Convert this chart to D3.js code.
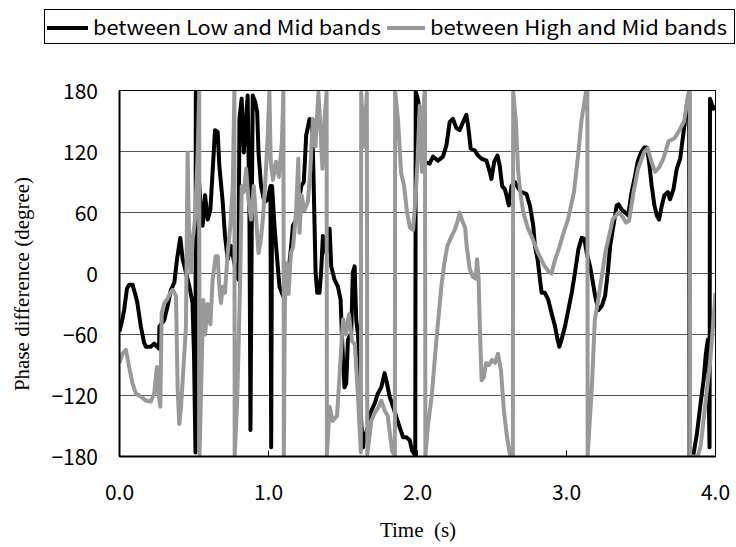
<!DOCTYPE html>
<html lang="en">
<head>
<meta charset="UTF-8">
<title>Phase difference</title>
<script src="https://d3js.org/d3.v7.min.js"></script>
<style>
  html, body { margin:0; padding:0; background:#fff; }
  svg { display:block; }
  .lbl { font-family:"Noto Sans CJK JP", sans-serif; font-size:21px; fill:#000; }
  .leg { font-family:"Noto Sans CJK JP", sans-serif; font-size:20px; fill:#000; }
  .ttl { font-family:"Liberation Serif", serif; font-size:21px; fill:#000; }
</style>
</head>
<body>
<div id="chart"></div>
<script>
// series names (legend)
const seriesNames=["between Low and Mid bands","between High and Mid bands"];

// Low-Mid phase difference (black), time in s, phase in degree
const lowTime=[0.000,0.015,0.031,0.050,0.065,0.087,0.105,0.120,0.143,0.165,0.177,0.210,0.233,0.265,0.268,0.300,0.323,0.345,0.368,0.386,
  0.408,0.424,0.446,0.469,0.490,0.500,0.510,0.512,0.530,0.547,0.558,0.574,0.592,0.610,0.626,0.641,0.659,0.670,0.693,0.708,
  0.726,0.749,0.782,0.798,0.805,0.820,0.834,0.850,0.860,0.872,0.879,0.888,0.894,0.910,0.924,0.933,0.950,0.973,0.995,1.013,
  1.018,1.024,1.040,1.058,1.074,1.097,1.119,1.134,1.152,1.164,1.186,1.220,1.237,1.253,1.276,1.291,1.300,1.316,1.327,1.342,
  1.353,1.365,1.387,1.410,1.421,1.443,1.466,1.484,1.492,1.510,1.522,1.533,1.555,1.566,1.578,1.589,1.600,1.611,1.622,1.634,
  1.645,1.667,1.690,1.712,1.734,1.757,1.779,1.791,1.813,1.836,1.858,1.880,1.903,1.925,1.948,1.963,1.985,1.988,2.005,2.020,
  2.037,2.081,2.104,2.137,2.171,2.194,2.216,2.238,2.261,2.283,2.306,2.328,2.339,2.357,2.384,2.407,2.429,2.463,2.485,2.496,
  2.515,2.537,2.552,2.568,2.586,2.597,2.613,2.631,2.653,2.676,2.698,2.732,2.754,2.777,2.788,2.806,2.822,2.833,2.855,2.878,
  2.900,2.923,2.940,2.952,2.967,2.990,3.012,3.035,3.057,3.080,3.102,3.120,3.136,3.158,3.174,3.192,3.214,3.237,3.259,3.277,
  3.293,3.315,3.337,3.349,3.370,3.393,3.415,3.433,3.456,3.478,3.500,3.523,3.539,3.554,3.572,3.590,3.606,3.621,3.640,3.657,
  3.680,3.695,3.718,3.740,3.763,3.774,3.792,3.808,3.823,3.826,3.852,3.875,3.897,3.920,3.935,3.949,3.960,3.963,3.985,4.000];
const lowPhase=[-57,-48,-36,-15,-11,-11,-20,-29,-52,-68,-72,-72,-69,-74,-52,-46,-32,-16,-9,14,
  35,14,1,-13,-29,-79,-176,178,100,60,47,77,53,63,103,141,139,106,70,37,
  14,27,1,-6,152,172,119,152,175,60,-154,60,175,169,159,119,86,70,73,86,
  -171,86,47,14,-13,-22,-16,1,27,47,53,86,90,136,152,150,109,1,-19,-19,
  1,37,20,44,7,-6,-13,-26,-59,-112,-108,-65,-59,1,7,-46,-59,-88,-145,-171,
  -161,-151,-135,-128,-118,-112,-98,-105,-121,-131,-141,-151,-161,-161,-164,-174,-179,179,170,150,
  110,108,115,111,115,126,149,152,143,141,149,156,146,123,121,116,113,111,100,93,
  110,116,106,86,83,77,67,86,90,84,80,78,67,47,27,14,-6,-19,-19,-26,
  -39,-52,-65,-72,-65,-52,-36,-19,1,24,35,34,20,7,-6,-22,-36,-32,-22,1,
  27,47,67,68,63,60,57,77,93,110,119,124,124,110,86,67,57,53,67,77,
  80,73,83,103,113,126,146,166,179,-179,-178,-158,-131,-105,-79,-65,-171,172,162,165];

// High-Mid phase difference (gray)
const highTime=[0.000,0.020,0.043,0.065,0.087,0.110,0.143,0.177,0.210,0.233,0.251,0.262,0.274,0.283,0.300,0.318,0.341,0.357,0.379,0.390,
  0.401,0.413,0.435,0.446,0.457,0.469,0.480,0.491,0.507,0.525,0.535,0.537,0.550,0.562,0.575,0.590,0.610,0.625,0.645,0.659,
  0.670,0.681,0.693,0.708,0.726,0.744,0.760,0.771,0.773,0.789,0.798,0.811,0.820,0.834,0.850,0.865,0.883,0.901,0.917,0.933,
  0.946,0.962,0.977,0.995,1.006,1.015,1.030,1.050,1.070,1.090,1.100,1.103,1.110,1.120,1.135,1.150,1.165,1.185,1.200,1.208,
  1.222,1.240,1.264,1.280,1.298,1.315,1.335,1.350,1.362,1.375,1.390,1.392,1.410,1.430,1.460,1.475,1.500,1.520,1.540,1.560,
  1.580,1.600,1.620,1.622,1.640,1.660,1.663,1.690,1.710,1.740,1.757,1.780,1.800,1.830,1.848,1.850,1.870,1.890,1.910,1.930,
  1.950,1.970,1.985,2.000,2.015,2.030,2.045,2.050,2.053,2.070,2.095,2.130,2.160,2.180,2.200,2.230,2.250,2.270,2.283,2.300,
  2.320,2.330,2.350,2.370,2.390,2.400,2.410,2.420,2.430,2.445,2.460,2.480,2.500,2.520,2.540,2.560,2.580,2.600,2.620,2.640,
  2.642,2.660,2.676,2.690,2.710,2.740,2.770,2.810,2.850,2.880,2.900,2.920,2.950,2.980,3.010,3.050,3.080,3.100,3.130,3.140,
  3.142,3.170,3.190,3.220,3.260,3.310,3.348,3.370,3.400,3.420,3.450,3.480,3.520,3.545,3.570,3.595,3.625,3.650,3.685,3.725,
  3.755,3.790,3.815,3.828,3.830,3.880,3.900,3.930,3.965,3.990,4.000];
const highPhase=[-88,-79,-75,-92,-108,-118,-121,-125,-126,-118,-92,-118,-131,-39,-29,-26,-19,-16,-22,-112,
  -148,-131,-79,-52,119,20,1,34,53,120,179,-179,-100,-26,-60,-30,-50,-6,17,17,
  -13,-29,-13,-19,20,47,86,179,-179,-128,-79,1,86,80,103,73,53,86,53,20,
  30,53,86,136,179,110,92,110,95,130,179,-179,-30,10,-20,20,26,60,113,40,
  77,62,70,100,152,125,178,140,103,150,179,-179,-131,-145,-140,-105,-45,-60,-40,-66,
  -70,-120,-176,178,125,178,-178,-145,-138,-131,-125,-135,-140,-175,-179,179,150,99,86,60,
  45,43,70,110,165,100,175,179,-179,-150,-121,-60,-13,10,27,37,43,52,60,52,
  45,27,5,-3,-5,14,-5,-60,-105,-102,-88,-90,-85,-88,-79,-95,-135,-160,-178,-179,
  179,150,100,80,60,45,35,20,8,2,0,12,25,40,53,80,119,150,178,179,
  -179,-112,-46,-19,20,53,60,57,50,52,80,103,119,123,110,100,105,113,130,133,
  140,150,175,180,-180,-180,-170,-131,-85,-39,-19];

const yTicks=[-180,-120,-60,0,60,120,180];
const xTicks=[0,1,2,3,4];

const width=736,height=547;
const plot={left:119.5,right:715.5,top:90.5,bottom:456.5};

const svg=d3.select("#chart").append("svg")
  .attr("width",width).attr("height",height)
  .style("background","#fff");

const x=d3.scaleLinear().domain([0,4]).range([plot.left,plot.right]);
const y=d3.scaleLinear().domain([-180,180]).range([plot.bottom,plot.top]);

// gridlines
svg.append("g").selectAll("line").data(yTicks.filter(d=>d>-180&&d<180)).join("line")
  .attr("x1",plot.left).attr("x2",plot.right)
  .attr("y1",d=>y(d)).attr("y2",d=>y(d))
  .attr("stroke","#555").attr("stroke-width",1);

svg.append("defs").append("clipPath").attr("id","clip")
  .append("rect").attr("x",plot.left).attr("y",plot.top)
  .attr("width",plot.right-plot.left).attr("height",plot.bottom-plot.top);

const line=d3.line().x(d=>x(d[0])).y(d=>y(d[1]));
const lowData=lowTime.map((t,i)=>[t,lowPhase[i]]);
const highData=highTime.map((t,i)=>[t,highPhase[i]]);

const lines=svg.append("g").attr("clip-path","url(#clip)");
lines.append("path").datum(lowData).attr("d",line)
  .attr("fill","none").attr("stroke","#000").attr("stroke-width",4).attr("stroke-linejoin","round");
lines.append("path").datum(highData).attr("d",line)
  .attr("fill","none").attr("stroke","#999").attr("stroke-width",4).attr("stroke-linejoin","round");

// plot frame
svg.append("rect").attr("x",plot.left).attr("y",plot.top)
  .attr("width",plot.right-plot.left).attr("height",plot.bottom-plot.top)
  .attr("fill","none").attr("stroke","#000").attr("stroke-width",1);
svg.append("line").attr("x1",plot.left).attr("x2",plot.left)
  .attr("y1",plot.top).attr("y2",plot.bottom).attr("stroke","#000").attr("stroke-width",2);
svg.append("line").attr("x1",plot.left).attr("x2",plot.right)
  .attr("y1",plot.bottom).attr("y2",plot.bottom).attr("stroke","#000").attr("stroke-width",2);

// x ticks (inside) and labels
svg.append("g").selectAll("line").data(xTicks.slice(1,-1)).join("line")
  .attr("x1",d=>x(d)).attr("x2",d=>x(d))
  .attr("y1",plot.bottom).attr("y2",plot.bottom-6)
  .attr("stroke","#000");
svg.append("g").selectAll("text").data(xTicks).join("text")
  .attr("class","lbl").attr("x",d=>x(d)).attr("y",500)
  .attr("text-anchor","middle").text(d3.format(".1f"));

// y labels
svg.append("g").selectAll("text").data(yTicks).join("text")
  .attr("class","lbl").attr("x",98).attr("y",d=>y(d)+8)
  .attr("text-anchor","end").text(d=>d<0?"\u2212"+(-d):d);

// axis titles
svg.append("text").attr("class","ttl")
  .attr("transform","translate(29,284) rotate(-90)")
  .attr("text-anchor","middle").text("Phase difference (degree)");
svg.append("text").attr("class","ttl")
  .attr("x",418).attr("y",537).attr("text-anchor","middle")
  .attr("xml:space","preserve").text("Time  (s)");

// legend
const lg=svg.append("g");
lg.append("rect").attr("x",44.5).attr("y",9.5).attr("width",690).attr("height",34)
  .attr("fill","#fff").attr("stroke","#000");
const items=[{x0:47,x1:88,tx:93,w:288,c:"#000"},{x0:387,x1:425,tx:430,w:297,c:"#999"}];
items.forEach((it,i)=>{
  lg.append("line").attr("x1",it.x0).attr("x2",it.x1).attr("y1",28).attr("y2",28)
    .attr("stroke",it.c).attr("stroke-width",4);
  lg.append("text").attr("class","leg").attr("x",it.tx).attr("y",35)
    .attr("textLength",it.w).attr("lengthAdjust","spacingAndGlyphs")
    .text(seriesNames[i]);
});
</script>
</body>
</html>
